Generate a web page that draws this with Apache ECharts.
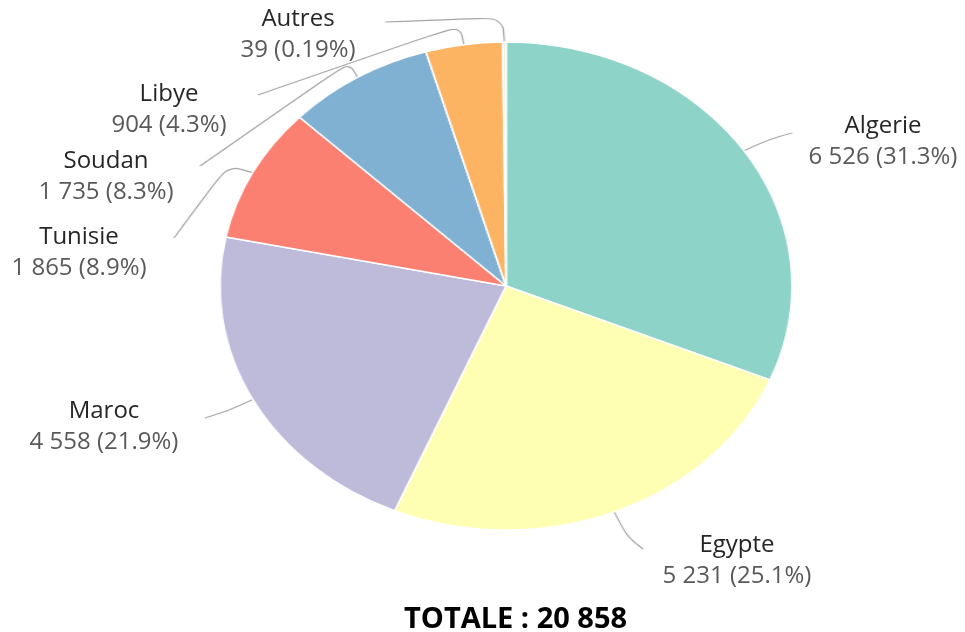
<!DOCTYPE html>
<html>
<head>
<meta charset="utf-8">
<script src="https://cdn.jsdelivr.net/npm/echarts/dist/echarts.min.js"></script>
<style>
  html, body { margin: 0; padding: 0; background: #fff; overflow: hidden; width: 965px; height: 632px; }
  #wrap { position: relative; width: 965px; height: 632px; }
  #pie { position: absolute; left: 0; top: 0; height: 632px; transform-origin: 0 0; }
  #labels { position: absolute; left: 0; top: 0; width: 965px; height: 632px; }
</style>
</head>
<body>
<div id="wrap">
  <div id="pie"></div>
  <div id="labels"></div>
</div>
<script>
// Data
const countries = ['Algerie', 'Egypte', 'Maroc', 'Tunisie', 'Soudan', 'Libye', 'Autres'];
const counts = [6526, 5231, 4558, 1865, 1735, 904, 39];
const sliceColors = ['#8ed3c7', '#ffffb3', '#bebada', '#fb8072', '#80b1d3', '#fdb462', '#f3eedb'];
const totalLabel = 'TOTALE';

// The pie is drawn wider than tall: the pie layer is stretched horizontally.
const STRETCH = 286 / 244;
const PIE_CX = 506, PIE_CY = 286, PIE_R = 244;

// Label placement (page coordinates): block centre and leader-line path.
const labelSpots = [
  { c: [883, 142], line: [[770, 139], [792, 133]] },
  { c: [737, 561], line: [[628, 538], [643, 549]] },
  { c: [104, 427], line: [[228, 411], [205, 418]] },
  { c: [79, 253],  line: [[228, 165], [174, 238]] },
  { c: [106, 177], line: [[349, 62], [200, 166]] },
  { c: [169, 110], line: [[460, 25], [258, 95]] },
  { c: [298, 35],  line: [[503, 17], [385, 22]] }
];

const total = counts.reduce((a, b) => a + b, 0);
const spaced = v => String(v).replace(/\B(?=(\d{3})+(?!\d))/g, ' ');
const pct = v => {
  const p = v / total * 100;
  return p >= 1 ? p.toFixed(1) : p.toFixed(2);
};
const seriesData = countries.map((name, i) => ({
  name: name,
  value: counts[i],
  itemStyle: { color: sliceColors[i] }
}));

// Layer 1: slices and leader lines
const pieEl = document.getElementById('pie');
pieEl.style.width = (965 / STRETCH) + 'px';
pieEl.style.transform = 'scaleX(' + STRETCH + ')';
const pieChart = echarts.init(pieEl, null, { renderer: 'canvas' });
pieChart.setOption({
  animation: false,
  backgroundColor: 'transparent',
  series: [{
    type: 'pie',
    center: [PIE_CX / STRETCH, PIE_CY],
    radius: PIE_R,
    startAngle: 90,
    clockwise: true,
    avoidLabelOverlap: false,
    silent: true,
    data: seriesData,
    itemStyle: { borderColor: '#ffffff', borderWidth: 1.5 },
    label: { show: true, color: 'rgba(0,0,0,0)', formatter: '{b}', fontSize: 12 },
    labelLine: {
      show: true, length: 10, length2: 10, smooth: 0.35,
      lineStyle: { color: '#a6a6a6', width: 1.2 }
    },
    labelLayout: function (params) {
      const spot = labelSpots[params.dataIndex];
      const start = params.labelLinePoints[0];
      const pts = [[start[0], start[1]]];
      spot.line.forEach(p => pts.push([p[0] / STRETCH, p[1]]));
      return { labelLinePoints: pts };
    }
  }]
});

// Layer 2: category labels and total
const labelChart = echarts.init(document.getElementById('labels'), null, { renderer: 'canvas' });
labelChart.setOption({
  animation: false,
  backgroundColor: 'transparent',
  title: {
    text: totalLabel + ' : ' + spaced(total),
    left: 399,
    top: 600,
    textStyle: { fontFamily: 'Open Sans', fontWeight: 'bold', fontSize: 29, color: '#000000' }
  },
  series: [{
    type: 'pie',
    center: [PIE_CX, PIE_CY],
    radius: PIE_R,
    startAngle: 90,
    clockwise: true,
    avoidLabelOverlap: false,
    silent: true,
    data: countries.map((name, i) => ({ name: name, value: counts[i] })),
    itemStyle: { color: 'rgba(0,0,0,0)', borderWidth: 0 },
    labelLine: { show: false },
    label: {
      show: true,
      formatter: p => '{n|' + p.name + '}\n{v|' + spaced(p.value) + ' (' + pct(p.value) + '%)}',
      rich: {
        n: { fontFamily: 'Open Sans', fontSize: 24, color: '#262626', lineHeight: 31 },
        v: { fontFamily: 'Open Sans', fontSize: 24, color: '#595959', lineHeight: 31 }
      }
    },
    labelLayout: function (params) {
      const spot = labelSpots[params.dataIndex];
      return { x: spot.c[0], y: spot.c[1], align: 'center', verticalAlign: 'middle' };
    }
  }]
});
</script>
</body>
</html>
